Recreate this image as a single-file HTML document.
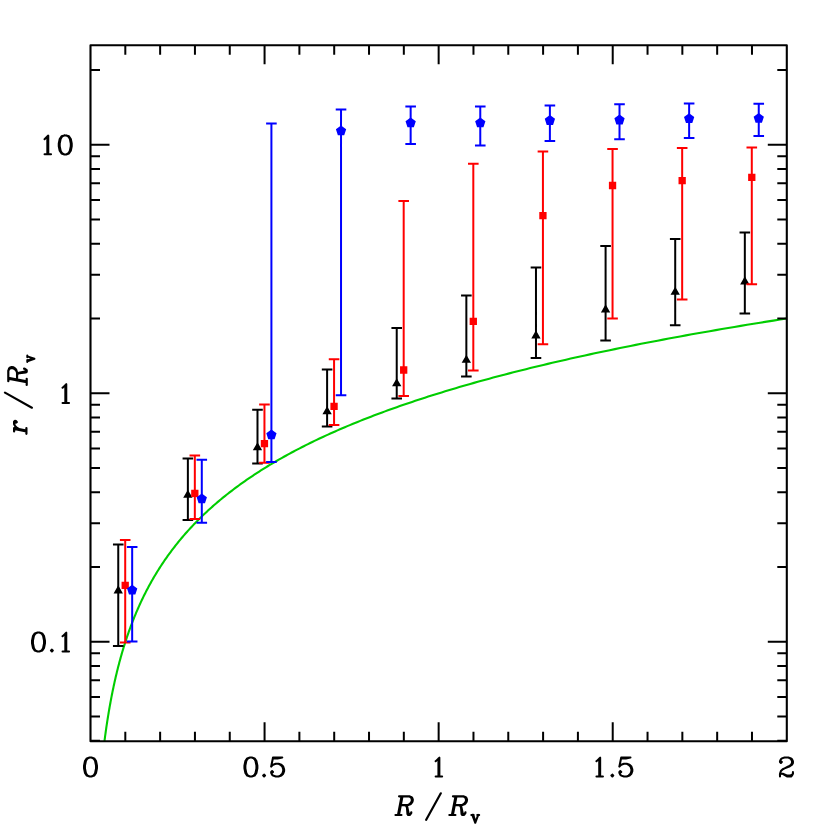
<!DOCTYPE html>
<html><head><meta charset="utf-8"><title>r/Rv vs R/Rv</title>
<style>html,body{margin:0;padding:0;background:#fff;font-family:"Liberation Sans",sans-serif}svg{display:block}</style></head>
<body>
<svg width="830" height="830" viewBox="0 0 830 830">
<rect x="0" y="0" width="830" height="830" fill="#fff"/>
<path d="M104.52 741.3 L104.66 739.63 L104.8 738.58 L104.94 737.52 L105.08 736.47 L105.22 735.41 L105.37 734.36 L105.51 733.3 L105.66 732.24 L105.81 731.19 L105.95 730.13 L106.11 729.08 L106.26 728.02 L106.41 726.97 L106.57 725.91 L106.72 724.86 L106.88 723.8 L107.04 722.74 L107.2 721.69 L107.37 720.63 L107.53 719.58 L107.7 718.52 L107.87 717.47 L108.04 716.41 L108.21 715.36 L108.38 714.3 L108.56 713.25 L108.73 712.19 L108.91 711.13 L109.09 710.08 L109.27 709.02 L109.46 707.97 L109.64 706.91 L109.83 705.86 L110.02 704.8 L110.21 703.75 L110.4 702.69 L110.59 701.64 L110.79 700.58 L110.99 699.52 L111.19 698.47 L111.39 697.41 L111.6 696.36 L111.8 695.3 L112.01 694.25 L112.22 693.19 L112.43 692.14 L112.65 691.08 L112.87 690.02 L113.08 688.97 L113.31 687.91 L113.53 686.86 L113.75 685.8 L113.98 684.75 L114.21 683.69 L114.44 682.64 L114.68 681.58 L114.91 680.53 L115.15 679.47 L115.39 678.41 L115.64 677.36 L115.88 676.3 L116.13 675.25 L116.38 674.19 L116.64 673.14 L116.89 672.08 L117.15 671.03 L117.41 669.97 L117.68 668.92 L117.94 667.86 L118.21 666.8 L118.48 665.75 L118.76 664.69 L119.03 663.64 L119.31 662.58 L119.59 661.53 L119.88 660.47 L120.17 659.42 L120.46 658.36 L120.75 657.3 L121.05 656.25 L121.35 655.19 L121.65 654.14 L121.95 653.08 L122.26 652.03 L122.57 650.97 L122.89 649.92 L123.21 648.86 L123.53 647.81 L123.85 646.75 L124.18 645.69 L124.51 644.64 L124.84 643.58 L125.18 642.53 L125.52 641.47 L125.86 640.42 L126.21 639.36 L126.56 638.31 L126.91 637.25 L127.27 636.2 L127.63 635.14 L127.99 634.08 L128.36 633.03 L128.73 631.97 L129.1 630.92 L129.48 629.86 L129.86 628.81 L130.25 627.75 L130.64 626.7 L131.03 625.64 L131.43 624.58 L131.83 623.53 L132.24 622.47 L132.65 621.42 L133.06 620.36 L133.48 619.31 L133.9 618.25 L134.32 617.2 L134.75 616.14 L135.19 615.09 L135.63 614.03 L136.07 612.97 L136.51 611.92 L136.97 610.86 L137.42 609.81 L137.88 608.75 L138.35 607.7 L138.82 606.64 L139.29 605.59 L139.77 604.53 L140.25 603.48 L140.74 602.42 L141.23 601.36 L141.73 600.31 L142.23 599.25 L142.74 598.2 L143.25 597.14 L143.77 596.09 L144.29 595.03 L144.82 593.98 L145.35 592.92 L145.89 591.86 L146.43 590.81 L146.98 589.75 L147.54 588.7 L148.1 587.64 L148.66 586.59 L149.23 585.53 L149.81 584.48 L150.39 583.42 L150.98 582.37 L151.57 581.31 L152.17 580.25 L152.78 579.2 L153.39 578.14 L154 577.09 L154.63 576.03 L155.26 574.98 L155.89 573.92 L156.53 572.87 L157.18 571.81 L157.84 570.75 L158.5 569.7 L159.16 568.64 L159.84 567.59 L160.52 566.53 L161.21 565.48 L161.9 564.42 L162.6 563.37 L163.31 562.31 L164.02 561.26 L164.74 560.2 L165.47 559.14 L166.21 558.09 L166.95 557.03 L167.7 555.98 L168.46 554.92 L169.22 553.87 L170 552.81 L170.78 551.76 L171.57 550.7 L172.36 549.65 L173.16 548.59 L173.98 547.53 L174.8 546.48 L175.62 545.42 L176.46 544.37 L177.3 543.31 L178.15 542.26 L179.02 541.2 L179.88 540.15 L180.76 539.09 L181.65 538.03 L182.54 536.98 L183.45 535.92 L184.36 534.87 L185.28 533.81 L186.21 532.76 L187.15 531.7 L188.1 530.65 L189.06 529.59 L190.03 528.54 L191 527.48 L191.99 526.42 L192.99 525.37 L193.99 524.31 L195.01 523.26 L196.03 522.2 L197.07 521.15 L198.12 520.09 L199.17 519.04 L200.24 517.98 L201.32 516.93 L202.41 515.87 L203.5 514.81 L204.61 513.76 L205.74 512.7 L206.87 511.65 L208.01 510.59 L209.16 509.54 L210.33 508.48 L211.51 507.43 L212.69 506.37 L213.89 505.31 L215.11 504.26 L216.33 503.2 L217.56 502.15 L218.81 501.09 L220.07 500.04 L221.34 498.98 L222.63 497.93 L223.93 496.87 L225.24 495.82 L226.56 494.76 L227.9 493.7 L229.25 492.65 L230.61 491.59 L231.99 490.54 L233.37 489.48 L234.78 488.43 L236.19 487.37 L237.63 486.32 L239.07 485.26 L240.53 484.21 L242 483.15 L243.49 482.09 L244.99 481.04 L246.51 479.98 L248.04 478.93 L249.59 477.87 L251.15 476.82 L252.73 475.76 L254.33 474.71 L255.93 473.65 L257.56 472.59 L259.2 471.54 L260.86 470.48 L262.53 469.43 L264.22 468.37 L265.93 467.32 L267.65 466.26 L269.39 465.21 L271.15 464.15 L272.92 463.1 L274.71 462.04 L276.52 460.98 L278.35 459.93 L280.19 458.87 L282.06 457.82 L283.94 456.76 L285.84 455.71 L287.76 454.65 L289.7 453.6 L291.65 452.54 L293.63 451.49 L295.62 450.43 L297.64 449.37 L299.67 448.32 L301.73 447.26 L303.8 446.21 L305.9 445.15 L308.02 444.1 L310.15 443.04 L312.31 441.99 L314.49 440.93 L316.69 439.87 L318.91 438.82 L321.16 437.76 L323.42 436.71 L325.71 435.65 L328.02 434.6 L330.35 433.54 L332.71 432.49 L335.09 431.43 L337.49 430.38 L339.92 429.32 L342.37 428.26 L344.84 427.21 L347.34 426.15 L349.87 425.1 L352.41 424.04 L354.99 422.99 L357.58 421.93 L360.21 420.88 L362.86 419.82 L365.53 418.77 L368.24 417.71 L370.96 416.65 L373.72 415.6 L376.5 414.54 L379.31 413.49 L382.15 412.43 L385.02 411.38 L387.91 410.32 L390.83 409.27 L393.78 408.21 L396.76 407.15 L399.77 406.1 L402.81 405.04 L405.88 403.99 L408.98 402.93 L412.1 401.88 L415.26 400.82 L418.46 399.77 L421.68 398.71 L424.93 397.66 L428.22 396.6 L431.54 395.54 L434.89 394.49 L438.27 393.43 L441.69 392.38 L445.14 391.32 L448.62 390.27 L452.14 389.21 L455.69 388.16 L459.28 387.1 L462.9 386.05 L466.56 384.99 L470.26 383.93 L473.99 382.88 L477.76 381.82 L481.56 380.77 L485.41 379.71 L489.29 378.66 L493.2 377.6 L497.16 376.55 L501.16 375.49 L505.19 374.43 L509.27 373.38 L513.38 372.32 L517.54 371.27 L521.73 370.21 L525.97 369.16 L530.25 368.1 L534.57 367.05 L538.93 365.99 L543.34 364.94 L547.79 363.88 L552.28 362.82 L556.82 361.77 L561.4 360.71 L566.03 359.66 L570.7 358.6 L575.42 357.55 L580.18 356.49 L585 355.44 L589.85 354.38 L594.76 353.33 L599.72 352.27 L604.72 351.21 L609.77 350.16 L614.87 349.1 L620.03 348.05 L625.23 346.99 L630.48 345.94 L635.79 344.88 L641.15 343.83 L646.56 342.77 L652.02 341.71 L657.54 340.66 L663.11 339.6 L668.74 338.55 L674.42 337.49 L680.16 336.44 L685.95 335.38 L691.81 334.33 L697.71 333.27 L703.68 332.22 L709.71 331.16 L715.79 330.1 L721.93 329.05 L728.14 327.99 L734.41 326.94 L740.73 325.88 L747.12 324.83 L753.57 323.77 L760.09 322.72 L766.67 321.66 L773.31 320.61 L780.02 319.55 L786.8 318.49" fill="none" stroke="#00cd00" stroke-width="2.1" stroke-linejoin="round"/>
<path d="M118.25 544.4V646 M112.95 544.4H123.55 M112.95 646H123.55 M187.87 458.4V520 M182.57 458.4H193.17 M182.57 520H193.17 M257.49 409.7V463.6 M252.19 409.7H262.79 M252.19 463.6H262.79 M327.11 369.6V426.4 M321.81 369.6H332.41 M321.81 426.4H332.41 M396.73 328V398.6 M391.43 328H402.03 M391.43 398.6H402.03 M466.35 295.6V376.4 M461.05 295.6H471.65 M461.05 376.4H471.65 M535.97 267.4V358 M530.67 267.4H541.27 M530.67 358H541.27 M605.59 246V340.6 M600.29 246H610.89 M600.29 340.6H610.89 M675.21 239V325.2 M669.91 239H680.51 M669.91 325.2H680.51 M744.83 232.6V313.4 M739.53 232.6H750.13 M739.53 313.4H750.13" fill="none" stroke="#000" stroke-width="2.0"/>
<path d="M118.25 585.35 L122.92 593.45 L113.57 593.45Z M187.87 489.75 L192.54 497.85 L183.19 497.85Z M257.49 442.15 L262.16 450.25 L252.81 450.25Z M327.11 406.15 L331.78 414.25 L322.43 414.25Z M396.73 378.15 L401.4 386.25 L392.05 386.25Z M466.35 354.75 L471.02 362.85 L461.67 362.85Z M535.97 330.35 L540.64 338.45 L531.29 338.45Z M605.59 304.35 L610.26 312.45 L600.91 312.45Z M675.21 286.75 L679.88 294.85 L670.53 294.85Z M744.83 276.35 L749.5 284.45 L740.15 284.45Z" fill="#000" stroke="none"/>
<path d="M125.21 540V642.6 M119.91 540H130.51 M119.91 642.6H130.51 M194.83 455.6V519 M189.53 455.6H200.13 M189.53 519H200.13 M264.45 404.4V462.8 M259.15 404.4H269.75 M259.15 462.8H269.75 M334.07 359.2V425 M328.77 359.2H339.37 M328.77 425H339.37 M403.69 201V396 M398.39 201H408.99 M398.39 396H408.99 M473.31 163.8V370.6 M468.01 163.8H478.61 M468.01 370.6H478.61 M542.93 151.6V344.2 M537.63 151.6H548.23 M537.63 344.2H548.23 M612.55 149.1V318.4 M607.25 149.1H617.85 M607.25 318.4H617.85 M682.17 147.9V299.4 M676.87 147.9H687.47 M676.87 299.4H687.47 M751.79 147.4V284.2 M746.49 147.4H757.09 M746.49 284.2H757.09" fill="none" stroke="#ff0000" stroke-width="2.0"/>
<path d="M121.56 581.75 L128.86 581.75 L128.86 589.05 L121.56 589.05Z M191.18 489.75 L198.48 489.75 L198.48 497.05 L191.18 497.05Z M260.8 439.95 L268.1 439.95 L268.1 447.25 L260.8 447.25Z M330.42 402.75 L337.72 402.75 L337.72 410.05 L330.42 410.05Z M400.04 366.35 L407.34 366.35 L407.34 373.65 L400.04 373.65Z M469.66 317.75 L476.96 317.75 L476.96 325.05 L469.66 325.05Z M539.28 211.95 L546.58 211.95 L546.58 219.25 L539.28 219.25Z M608.9 181.85 L616.2 181.85 L616.2 189.15 L608.9 189.15Z M678.52 176.95 L685.82 176.95 L685.82 184.25 L678.52 184.25Z M748.14 173.75 L755.44 173.75 L755.44 181.05 L748.14 181.05Z" fill="#ff0000" stroke="none"/>
<path d="M132.17 547V641.6 M126.87 547H137.47 M126.87 641.6H137.47 M201.79 459.8V522.8 M196.49 459.8H207.09 M196.49 522.8H207.09 M271.41 123.6V462 M266.11 123.6H276.71 M266.11 462H276.71 M341.03 109.4V395.2 M335.73 109.4H346.33 M335.73 395.2H346.33 M410.65 106.4V144 M405.35 106.4H415.95 M405.35 144H415.95 M480.27 106.4V145.4 M474.97 106.4H485.57 M474.97 145.4H485.57 M549.89 105.4V141 M544.59 105.4H555.19 M544.59 141H555.19 M619.51 104.3V139.2 M614.21 104.3H624.81 M614.21 139.2H624.81 M689.13 103.5V137.9 M683.83 103.5H694.43 M683.83 137.9H694.43 M758.75 103.8V136 M753.45 103.8H764.05 M753.45 136H764.05" fill="none" stroke="#0000ff" stroke-width="2.0"/>
<path d="M132.17 584.72 L137.31 588.45 L135.35 594.48 L129 594.48 L127.04 588.45Z M201.79 493.52 L206.93 497.25 L204.97 503.28 L198.62 503.28 L196.66 497.25Z M271.41 429.52 L276.55 433.25 L274.59 439.28 L268.24 439.28 L266.28 433.25Z M341.03 125.52 L346.17 129.25 L344.21 135.28 L337.86 135.28 L335.9 129.25Z M410.65 117.52 L415.79 121.25 L413.83 127.28 L407.48 127.28 L405.52 121.25Z M480.27 117.52 L485.41 121.25 L483.45 127.28 L477.1 127.28 L475.14 121.25Z M549.89 115.12 L555.03 118.85 L553.07 124.88 L546.72 124.88 L544.76 118.85Z M619.51 114.62 L624.65 118.35 L622.69 124.38 L616.34 124.38 L614.38 118.35Z M689.13 113.32 L694.27 117.05 L692.31 123.08 L685.96 123.08 L684 117.05Z M758.75 112.92 L763.89 116.65 L761.93 122.68 L755.58 122.68 L753.62 116.65Z" fill="#0000ff" stroke="none"/>
<rect x="90.5" y="45.2" width="696.3" height="696.1" fill="none" stroke="#000" stroke-width="2.1" stroke-linejoin="round"/>
<path d="M125.31 741.3v-9.5 M125.31 45.2v9.5 M160.13 741.3v-9.5 M160.13 45.2v9.5 M194.94 741.3v-9.5 M194.94 45.2v9.5 M229.76 741.3v-9.5 M229.76 45.2v9.5 M264.57 741.3v-19 M264.57 45.2v19 M299.39 741.3v-9.5 M299.39 45.2v9.5 M334.2 741.3v-9.5 M334.2 45.2v9.5 M369.02 741.3v-9.5 M369.02 45.2v9.5 M403.83 741.3v-9.5 M403.83 45.2v9.5 M438.65 741.3v-19 M438.65 45.2v19 M473.47 741.3v-9.5 M473.47 45.2v9.5 M508.28 741.3v-9.5 M508.28 45.2v9.5 M543.1 741.3v-9.5 M543.1 45.2v9.5 M577.91 741.3v-9.5 M577.91 45.2v9.5 M612.72 741.3v-19 M612.72 45.2v19 M647.54 741.3v-9.5 M647.54 45.2v9.5 M682.35 741.3v-9.5 M682.35 45.2v9.5 M717.17 741.3v-9.5 M717.17 45.2v9.5 M751.98 741.3v-9.5 M751.98 45.2v9.5 M90.5 740.69h9.5 M786.8 740.69h-9.5 M90.5 716.61h9.5 M786.8 716.61h-9.5 M90.5 696.93h9.5 M786.8 696.93h-9.5 M90.5 680.29h9.5 M786.8 680.29h-9.5 M90.5 665.88h9.5 M786.8 665.88h-9.5 M90.5 653.17h9.5 M786.8 653.17h-9.5 M90.5 641.8h19 M786.8 641.8h-19 M90.5 566.99h9.5 M786.8 566.99h-9.5 M90.5 523.24h9.5 M786.8 523.24h-9.5 M90.5 492.19h9.5 M786.8 492.19h-9.5 M90.5 468.11h9.5 M786.8 468.11h-9.5 M90.5 448.43h9.5 M786.8 448.43h-9.5 M90.5 431.79h9.5 M786.8 431.79h-9.5 M90.5 417.38h9.5 M786.8 417.38h-9.5 M90.5 404.67h9.5 M786.8 404.67h-9.5 M90.5 393.3h19 M786.8 393.3h-19 M90.5 318.49h9.5 M786.8 318.49h-9.5 M90.5 274.74h9.5 M786.8 274.74h-9.5 M90.5 243.69h9.5 M786.8 243.69h-9.5 M90.5 219.61h9.5 M786.8 219.61h-9.5 M90.5 199.93h9.5 M786.8 199.93h-9.5 M90.5 183.29h9.5 M786.8 183.29h-9.5 M90.5 168.88h9.5 M786.8 168.88h-9.5 M90.5 156.17h9.5 M786.8 156.17h-9.5 M90.5 144.8h19 M786.8 144.8h-19 M90.5 69.99h9.5 M786.8 69.99h-9.5" fill="none" stroke="#000" stroke-width="2"/>
<path d="M89.58 757.5 L86.8 758.4 L84.95 761.12 L84.03 765.64 L84.03 768.36 L84.95 772.88 L86.8 775.6 L89.58 776.5 L91.42 776.5 L94.2 775.6 L96.05 772.88 L96.97 768.36 L96.97 765.64 L96.05 761.12 L94.2 758.4 L91.42 757.5 L89.58 757.5 M89.58 757.5 L87.72 758.4 L86.8 759.3 L85.88 761.12 L84.95 765.64 L84.95 768.36 L85.88 772.88 L86.8 774.69 L87.72 775.6 L89.58 776.5 M91.42 776.5 L93.28 775.6 L94.2 774.69 L95.12 772.88 L96.05 768.36 L96.05 765.64 L95.12 761.12 L94.2 759.3 L93.28 758.4 L91.42 757.5 M249.97 757.5 L247.2 758.4 L245.35 761.12 L244.43 765.64 L244.43 768.36 L245.35 772.88 L247.2 775.6 L249.97 776.5 L251.83 776.5 L254.6 775.6 L256.45 772.88 L257.38 768.36 L257.38 765.64 L256.45 761.12 L254.6 758.4 L251.83 757.5 L249.97 757.5 M249.97 757.5 L248.12 758.4 L247.2 759.3 L246.28 761.12 L245.35 765.64 L245.35 768.36 L246.28 772.88 L247.2 774.69 L248.12 775.6 L249.97 776.5 M251.83 776.5 L253.68 775.6 L254.6 774.69 L255.53 772.88 L256.45 768.36 L256.45 765.64 L255.53 761.12 L254.6 759.3 L253.68 758.4 L251.83 757.5 M264.1 774.69 L263.18 775.6 L264.1 776.5 L265.03 775.6 L264.1 774.69 M273.02 757.5 L271.17 766.54 M271.17 766.54 L273.02 764.74 L275.8 763.83 L278.57 763.83 L281.35 764.74 L283.2 766.54 L284.12 769.26 L284.12 771.07 L283.2 773.78 L281.35 775.6 L278.57 776.5 L275.8 776.5 L273.02 775.6 L272.1 774.69 L271.17 772.88 L271.17 771.98 L272.1 771.07 L273.02 771.98 L272.1 772.88 M278.57 763.83 L280.42 764.74 L282.27 766.54 L283.2 769.26 L283.2 771.07 L282.27 773.78 L280.42 775.6 L278.57 776.5 M273.02 757.5 L282.27 757.5 M273.02 758.4 L277.65 758.4 L282.27 757.5 M435.66 761.27 L436.59 760.38 L439.36 757.71 L439.36 776.4 M438.44 758.6 L438.44 776.4 M435.66 776.4 L442.14 776.4 M596.46 761.27 L597.39 760.38 L600.16 757.71 L600.16 776.4 M599.24 758.6 L599.24 776.4 M596.46 776.4 L602.94 776.4 M612.35 774.69 L611.43 775.6 L612.35 776.5 L613.27 775.6 L612.35 774.69 M621.23 757.5 L619.38 766.54 M619.38 766.54 L621.23 764.74 L624 763.83 L626.77 763.83 L629.55 764.74 L631.4 766.54 L632.33 769.26 L632.33 771.07 L631.4 773.78 L629.55 775.6 L626.77 776.5 L624 776.5 L621.23 775.6 L620.3 774.69 L619.38 772.88 L619.38 771.98 L620.3 771.07 L621.23 771.98 L620.3 772.88 M626.77 763.83 L628.62 764.74 L630.48 766.54 L631.4 769.26 L631.4 771.07 L630.48 773.78 L628.62 775.6 L626.77 776.5 M621.23 757.5 L630.48 757.5 M621.23 758.4 L625.85 758.4 L630.48 757.5 M780.9 761.12 L781.83 762.02 L780.9 762.92 L779.98 762.02 L779.98 761.12 L780.9 759.3 L781.83 758.4 L784.6 757.5 L788.3 757.5 L791.08 758.4 L792 759.3 L792.93 761.12 L792.93 762.92 L792 764.74 L789.23 766.54 L784.6 768.36 L782.75 769.26 L780.9 771.07 L779.98 773.78 L779.98 776.5 M788.3 757.5 L790.15 758.4 L791.08 759.3 L792 761.12 L792 762.92 L791.08 764.74 L788.3 766.54 L784.6 768.36 M779.98 774.69 L780.9 773.78 L782.75 773.78 L787.38 775.6 L790.15 775.6 L792 774.69 L792.93 773.78 M782.75 773.78 L787.38 776.5 L791.08 776.5 L792 775.6 L792.93 773.78 L792.93 771.98 M44.56 139.17 L45.49 138.28 L48.26 135.61 L48.26 154.3 M47.34 136.5 L47.34 154.3 M44.56 154.3 L51.04 154.3 M64.33 135.4 L61.55 136.3 L59.7 139.02 L58.77 143.54 L58.77 146.25 L59.7 150.78 L61.55 153.5 L64.33 154.4 L66.17 154.4 L68.95 153.5 L70.8 150.78 L71.72 146.25 L71.72 143.54 L70.8 139.02 L68.95 136.3 L66.17 135.4 L64.33 135.4 M64.33 135.4 L62.48 136.3 L61.55 137.21 L60.62 139.02 L59.7 143.54 L59.7 146.25 L60.62 150.78 L61.55 152.59 L62.48 153.5 L64.33 154.4 M66.17 154.4 L68.03 153.5 L68.95 152.59 L69.88 150.78 L70.8 146.25 L70.8 143.54 L69.88 139.02 L68.95 137.21 L68.03 136.3 L66.17 135.4 M62.56 387.77 L63.49 386.88 L66.26 384.21 L66.26 402.9 M65.34 385.1 L65.34 402.9 M62.56 402.9 L69.04 402.9 M37.58 632.5 L34.8 633.4 L32.95 636.12 L32.02 640.64 L32.02 643.36 L32.95 647.88 L34.8 650.6 L37.58 651.5 L39.42 651.5 L42.2 650.6 L44.05 647.88 L44.98 643.36 L44.98 640.64 L44.05 636.12 L42.2 633.4 L39.42 632.5 L37.58 632.5 M37.58 632.5 L35.73 633.4 L34.8 634.3 L33.88 636.12 L32.95 640.64 L32.95 643.36 L33.88 647.88 L34.8 649.69 L35.73 650.6 L37.58 651.5 M39.42 651.5 L41.27 650.6 L42.2 649.69 L43.12 647.88 L44.05 643.36 L44.05 640.64 L43.12 636.12 L42.2 634.3 L41.27 633.4 L39.42 632.5 M51.9 649.69 L50.98 650.6 L51.9 651.5 L52.82 650.6 L51.9 649.69 M62.56 636.27 L63.49 635.38 L66.26 632.71 L66.26 651.4 M65.34 633.6 L65.34 651.4 M62.56 651.4 L69.04 651.4" fill="none" stroke="#000" stroke-width="2.05" stroke-linecap="round" stroke-linejoin="round"/>
<path d="M401.61 796.3 L398.04 815 M402.45 796.3 L398.89 815 M399.06 796.3 L409.24 796.3 L411.61 797.19 L412.29 798.08 L412.8 799.86 L412.46 801.64 L411.27 803.42 L410.26 804.31 L407.54 805.2 L400.76 805.2 M409.24 796.3 L410.76 797.19 L411.44 798.08 L411.95 799.86 L411.61 801.64 L410.43 803.42 L409.41 804.31 L407.54 805.2 M395.5 815 L401.44 815 M405 805.2 L406.52 806.1 L407.2 806.99 L408.56 813.22 L409.24 814.11 L410.09 814.11 L411.1 813.22 M406.52 806.1 L407.03 807.88 L407.54 814.11 L408.22 815 L409.92 815 L411.1 813.22 L411.27 812.33 M440.8 793.3 L426.2 819.8 M455.58 796.3 L451.95 815 M456.44 796.3 L452.81 815 M452.98 796.3 L463.37 796.3 L465.79 797.19 L466.48 798.08 L467 799.86 L466.65 801.64 L465.44 803.42 L464.4 804.31 L461.64 805.2 L454.71 805.2 M463.37 796.3 L464.92 797.19 L465.62 798.08 L466.13 799.86 L465.79 801.64 L464.58 803.42 L463.54 804.31 L461.64 805.2 M449.35 815 L455.41 815 M459.04 805.2 L460.6 806.1 L461.29 806.99 L462.67 813.22 L463.37 814.11 L464.23 814.11 L465.27 813.22 M460.6 806.1 L461.12 807.88 L461.64 814.11 L462.33 815 L464.06 815 L465.27 813.22 L465.44 812.33 M14.1 429 L26.4 431.32 M14.1 428.18 L26.4 430.49 M19.37 429.17 L16.74 427.85 L14.98 425.86 L14.1 424.04 L14.1 421.56 L14.98 420.9 L15.86 421.07 L16.74 422.06 L15.86 422.72 L14.98 421.73 M14.1 431.48 L14.1 428.18 M26.4 433.8 L26.4 428.01 M5 392.6 L31.9 407.7 M8.3 378.62 L26.7 382.28 M8.3 377.75 L26.7 381.41 M8.3 381.24 L8.3 370.76 L9.18 368.32 L10.05 367.62 L11.8 367.1 L13.56 367.45 L15.31 368.67 L16.19 369.72 L17.06 372.51 L17.06 379.49 M8.3 370.76 L9.18 369.19 L10.05 368.5 L11.8 367.97 L13.56 368.32 L15.31 369.54 L16.19 370.59 L17.06 372.51 M26.7 384.9 L26.7 378.79 M17.06 375.13 L17.94 373.56 L18.81 372.86 L24.95 371.46 L25.82 370.76 L25.82 369.89 L24.95 368.85 M17.94 373.56 L19.69 373.03 L25.82 372.51 L26.7 371.81 L26.7 370.07 L24.95 368.85 L24.07 368.67" fill="none" stroke="#000" stroke-width="2.2" stroke-linecap="round" stroke-linejoin="round"/>
<path d="M472.29 814.9 L475.25 822.8 M472.78 814.9 L475.25 821.67 M473.27 814.9 L475.25 821.11 M478.21 814.9 L475.25 822.8 M471.3 814.9 L473.77 814.9 M477.23 814.9 L479.2 814.9 M27.3 361.28 L34.4 358.8 M27.3 360.86 L33.39 358.8 M27.3 360.45 L32.88 358.8 M27.3 356.32 L34.4 358.8 M27.3 362.1 L27.3 360.04 M27.3 357.15 L27.3 355.5" fill="none" stroke="#000" stroke-width="2.0" stroke-linecap="round" stroke-linejoin="round"/>
</svg>
</body></html>
